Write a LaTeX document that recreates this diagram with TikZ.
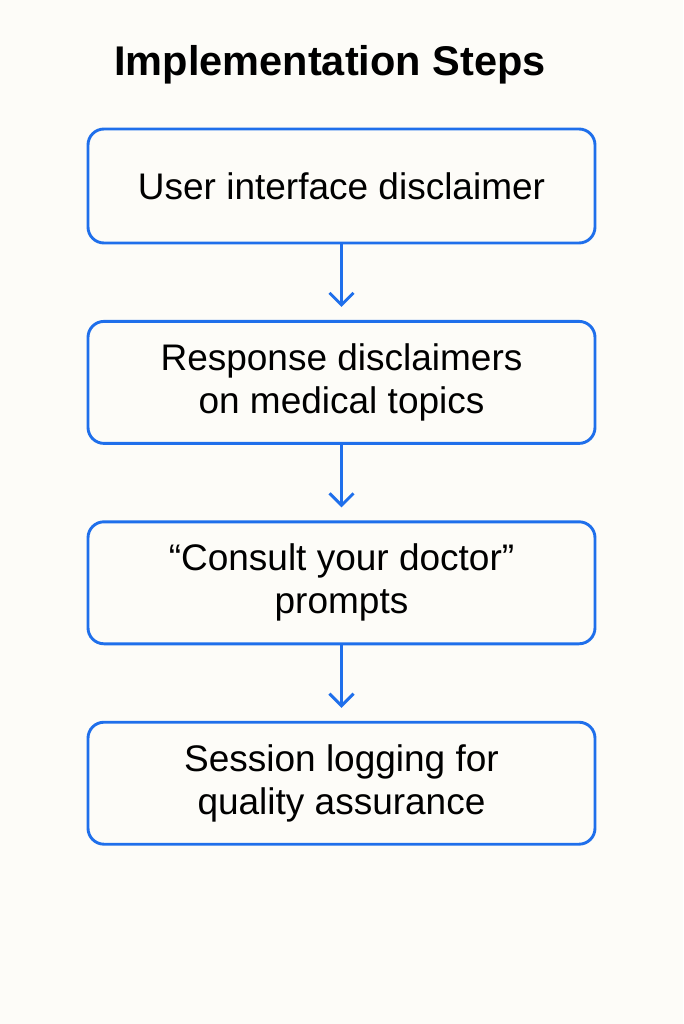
\documentclass[tikz,border=0pt]{standalone}
\usepackage{fontspec}
\setmainfont{Liberation Sans}
\usepackage{xcolor}
\usetikzlibrary{arrows.meta}
\usetikzlibrary{positioning}
\definecolor{stepblue}{RGB}{31,111,235}
\definecolor{paper}{RGB}{253,252,248}

\begin{document}
\begin{tikzpicture}[x=1pt,y=1pt,
    stepbox/.style={draw=stepblue, line width=2.9pt, rounded corners=16pt,
      minimum width=507pt, minimum height=122pt, align=center,
      font=\fontsize{37}{43}\selectfont},
    flow/.style={draw=stepblue, line width=2.9pt,
      -{Straight Barb[length=12pt,width=24pt]}, shorten >=13pt},
    node distance=75.5pt]
    % page
    \fill[paper] (0,0) rectangle (683,-1024);
    \useasboundingbox (0,0) rectangle (683,-1024);
    % title
    \node[font=\bfseries\fontsize{41.5}{48}\selectfont] (title) at (330,-65) {Implementation Steps};
    % steps
    \node[stepbox, minimum height=114pt] (s1) at (341.5,-186) {User interface disclaimer};
    \node[stepbox, below=of s1] (s2) {Response disclaimers\\ on medical topics};
    \node[stepbox, below=of s2] (s3) {“Consult your doctor”\\ prompts};
    \node[stepbox, below=of s3] (s4) {Session logging for\\ quality assurance};
    \foreach \a/\b in {s1/s2, s2/s3, s3/s4} {
        \draw[flow] (\a) -- (\b);
    }
\end{tikzpicture}
\end{document}
